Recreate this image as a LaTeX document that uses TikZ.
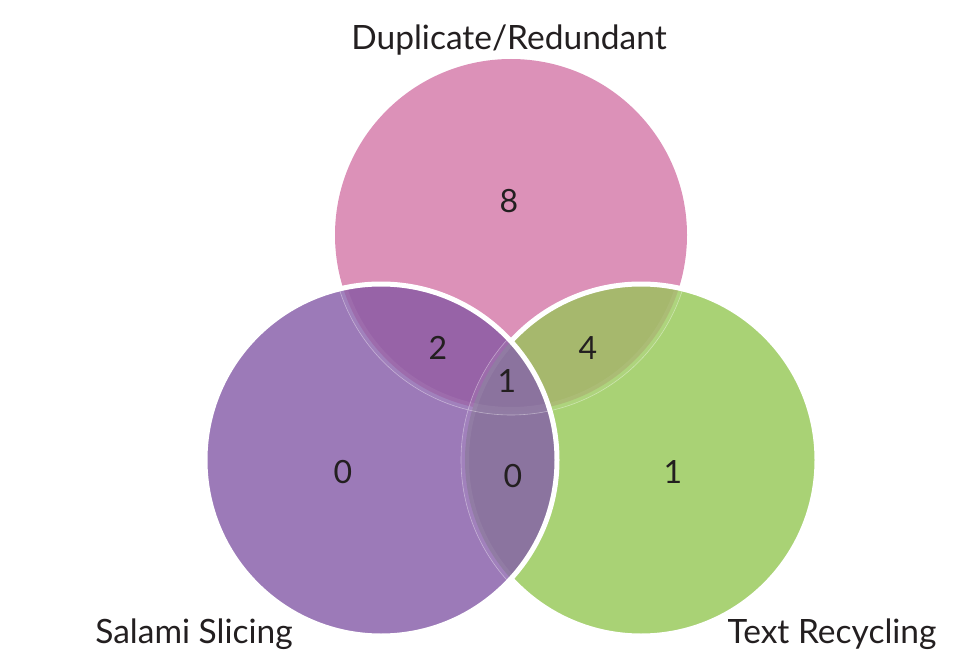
\documentclass[tikz,border=0pt]{standalone}
\usepackage{fontspec}
\setmainfont{Lato}
\definecolor{pinkc}{RGB}{220,145,184}
\definecolor{purplec}{RGB}{156,122,184}
\definecolor{greenc}{RGB}{169,210,117}
\definecolor{pinkpurple}{RGB}{151,99,167}
\definecolor{pinkgreen}{RGB}{166,184,109}
\definecolor{purplegreen}{RGB}{139,116,159}
\definecolor{triplec}{RGB}{139,115,158}
\definecolor{txt}{RGB}{35,31,32}
\tikzset{
  lbl/.style={text=txt, font=\fontsize{33.5}{40}\selectfont, inner sep=0pt},
  num/.style={text=txt, font=\fontsize{32}{38}\selectfont, inner sep=0pt},
  rim/.style={draw=white, line width=5},
  faint/.style={draw=white, opacity=0.4, line width=0.6},
  band/.style={draw=white, opacity=0.06, line width=8}
}
\begin{document}
\begin{tikzpicture}[x=1pt,y=-1pt]
\useasboundingbox (0,0) rectangle (964,650);
\coordinate (P) at (511,235);
\coordinate (U) at (381,460);
\coordinate (G) at (641,460);
\def\R{176}
% pink
\fill[pinkc] (P) circle (\R);
% green
\fill[greenc] (G) circle (\R);
\begin{scope}
  \clip (G) circle (\R);
  \fill[pinkgreen] (P) circle (\R);
  \draw[band] (P) circle (\R);
  \draw[faint] (P) circle (\R+4);
\end{scope}
\draw[rim] (G) circle (\R);
% purple
\fill[purplec] (U) circle (\R);
\begin{scope}
  \clip (U) circle (\R);
  \fill[pinkpurple] (P) circle (\R);
  \fill[purplegreen] (G) circle (\R);
  \begin{scope}
    \clip (P) circle (\R);
    \fill[triplec] (G) circle (\R);
  \end{scope}
  \draw[band] (P) circle (\R);
  \draw[faint] (P) circle (\R+4);
  \draw[band] (G) circle (\R);
  \draw[faint] (G) circle (\R+4);
\end{scope}
\draw[rim] (U) circle (\R);
% labels
\node[lbl] (tdup) at (509,40) {Duplicate/Redundant};
\node[lbl] (tsal) at (194,634) {Salami Slicing};
\node[lbl] (ttex) at (832,634) {Text Recycling};
% numbers
\node[num] (n8) at (509,201) {8};
\node[num] (n2) at (438,348) {2};
\node[num] (n4) at (588,348) {4};
\node[num] (n1c) at (507,381) {1};
\node[num] (n0l) at (343,472) {0};
\node[num] (n0m) at (513,476) {0};
\node[num] (n1r) at (673,472) {1};
\end{tikzpicture}
\end{document}
